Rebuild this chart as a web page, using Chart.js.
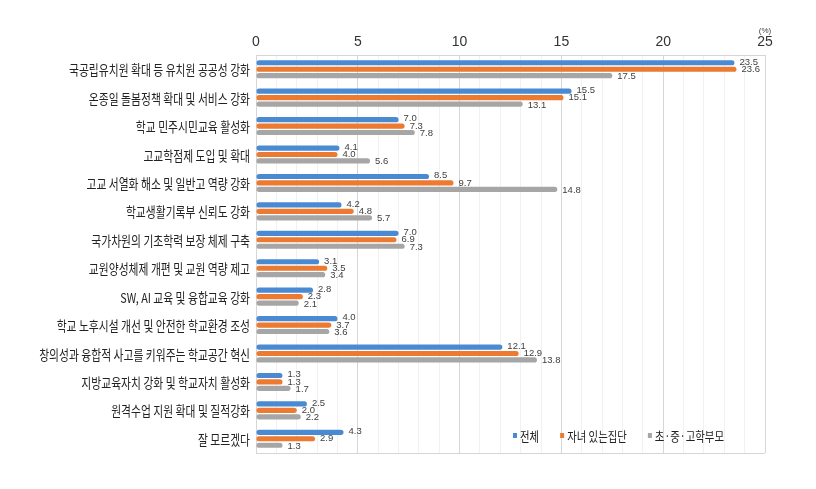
<!DOCTYPE html>
<html>
<head>
<meta charset="utf-8">
<script src="https://cdn.jsdelivr.net/npm/chart.js@4"></script>
<style>
  html, body { margin: 0; padding: 0; background: #fff; }
  #wrap { width: 816px; height: 489px; }
</style>
</head>
<body>
<div id="wrap"><canvas id="mainChart" width="816" height="489"></canvas></div>
<script>
// 항목
const categories = [
    "국공립유치원 확대 등 유치원 공공성 강화",
    "온종일 돌봄정책 확대 및 서비스 강화",
    "학교 민주시민교육 활성화",
    "고교학점제 도입 및 확대",
    "고교 서열화 해소 및 일반고 역량 강화",
    "학교생활기록부 신뢰도 강화",
    "국가차원의 기초학력 보장 체제 구축",
    "교원양성체제 개편 및 교원 역량 제고",
    "SW, AI 교육 및 융합교육 강화",
    "학교 노후시설 개선 및 안전한 학교환경 조성",
    "창의성과 융합적 사고를 키워주는 학교공간 혁신",
    "지방교육자치 강화 및 학교자치 활성화",
    "원격수업 지원 확대 및 질적강화",
    "잘 모르겠다"
];
const seriesNames = ["전체", "자녀 있는집단", "초·중·고학부모"];
const totalValues  = [23.5, 15.5, 7.0, 4.1, 8.5, 4.2, 7.0, 3.1, 2.8, 4.0, 12.1, 1.3, 2.5, 4.3];
const parentValues = [23.6, 15.1, 7.3, 4.0, 9.7, 4.8, 6.9, 3.5, 2.3, 3.7, 12.9, 1.3, 2.0, 2.9];
const schoolValues = [17.5, 13.1, 7.8, 5.6, 14.8, 5.7, 7.3, 3.4, 2.1, 3.6, 13.8, 1.7, 2.2, 1.3];
const seriesColors = ["#4a8ad2", "#ec7a30", "#a6a6a6"];
const xMax = 25;
const unitLabel = "(%)";

const korFont = "'Noto Sans CJK KR', 'Noto Sans', sans-serif";
const numFont = "'Liberation Sans Narrow', 'Liberation Sans', 'DejaVu Sans', sans-serif";
const squeeze = 0.8;

// 막대 끝 값 표시
const valueLabels = {
    id: "valueLabels",
    afterDatasetsDraw(chart) {
        const ctx = chart.ctx;
        ctx.save();
        ctx.font = "9.5px " + numFont;
        ctx.fillStyle = "#404040";
        ctx.textAlign = "left";
        ctx.textBaseline = "middle";
        chart.data.datasets.forEach(function (ds, i) {
            const meta = chart.getDatasetMeta(i);
            meta.data.forEach(function (bar, j) {
                ctx.fillText(ds.data[j].toFixed(1), bar.x + 5, bar.y + (i - 1) * 0.8);
            });
        });
        ctx.restore();
    }
};

// 항목 이름, 테두리, 범례, 단위
const extras = {
    id: "extras",
    afterDraw(chart) {
        const ctx = chart.ctx;
        const area = chart.chartArea;
        const yScale = chart.scales.y;

        ctx.save();
        ctx.strokeStyle = "#d6d6d6";
        ctx.lineWidth = 1;
        ctx.beginPath();
        ctx.moveTo(area.left, Math.round(area.bottom) + 0.5);
        ctx.lineTo(area.right, Math.round(area.bottom) + 0.5);
        ctx.moveTo(area.left, Math.round(area.top) + 0.5);
        ctx.lineTo(area.right, Math.round(area.top) + 0.5);
        ctx.stroke();

        // 항목
        ctx.font = "13.5px " + korFont;
        ctx.fillStyle = "#222";
        ctx.textAlign = "right";
        ctx.textBaseline = "middle";
        categories.forEach(function (c, i) {
            const y = yScale.getPixelForTick(i);
            ctx.save();
            ctx.translate(area.left - 6, y + 1);
            ctx.scale(squeeze, 1);
            ctx.fillText(c, 0, 0);
            ctx.restore();
        });

        // 범례
        ctx.font = "13px " + korFont;
        ctx.textAlign = "left";
        let x = area.right - 252;
        const ly = area.bottom - 18;
        seriesNames.forEach(function (name, i) {
            ctx.fillStyle = seriesColors[i];
            ctx.fillRect(x, ly - 2, 4, 5);
            ctx.fillStyle = "#222";
            ctx.save();
            ctx.translate(x + 7, ly + 1);
            ctx.scale(squeeze, 1);
            ctx.fillText(name, 0, 0);
            ctx.restore();
            x += 7 + ctx.measureText(name).width * squeeze + 21;
        });

        // 단위
        ctx.font = "8px " + numFont;
        ctx.fillStyle = "#444";
        ctx.textAlign = "center";
        ctx.fillText(unitLabel, chart.scales.x.getPixelForValue(xMax), area.top - 24);
        ctx.restore();
    }
};

function makeDataSets() {
    const all = [totalValues, parentValues, schoolValues];
    let dataSets = [];
    for (let i = 0; i < all.length; i++) {
        dataSets[i] = {
            label: seriesNames[i],
            data: all[i],
            backgroundColor: seriesColors[i],
            borderRadius: 3,
            borderSkipped: false,
            categoryPercentage: 0.68,
            barPercentage: 0.8
        };
    }
    return dataSets;
}

new Chart(document.getElementById("mainChart"), {
    type: "bar",
    data: {
        labels: categories,
        datasets: makeDataSets()
    },
    options: {
        indexAxis: "y",
        responsive: false,
        animation: false,
        layout: { padding: { left: 0, right: 51, top: 0, bottom: 36 } },
        plugins: {
            legend: { display: false },
            tooltip: { enabled: false }
        },
        scales: {
            x: {
                position: "top",
                min: 0,
                max: xMax,
                afterFit: function (scale) { scale.height = 55; },
                ticks: {
                    stepSize: 1,
                    autoSkip: false,
                    maxRotation: 0,
                    padding: 4,
                    color: "#333",
                    font: { family: numFont, size: 14 },
                    callback: function (v) { return v % 5 === 0 ? String(v) : ""; }
                },
                grid: {
                    drawTicks: false,
                    color: function (c) {
                        return c.tick && c.tick.value % 5 === 0 ? "#d6d6d6" : "#f1f1f1";
                    }
                },
                border: { display: false }
            },
            y: {
                afterFit: function (scale) { scale.width = 256; },
                ticks: { display: false },
                grid: { display: false },
                border: { display: false }
            }
        }
    },
    plugins: [valueLabels, extras]
});
</script>
</body>
</html>
